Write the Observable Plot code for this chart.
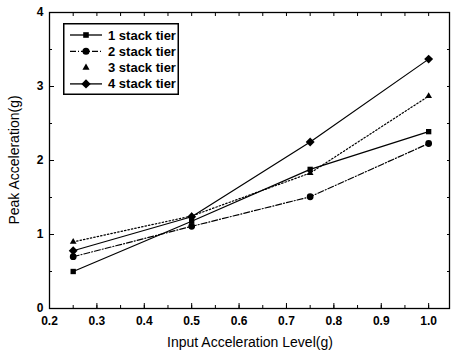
<!DOCTYPE html>
<html>
<head>
<meta charset="utf-8">
<script src="https://cdn.jsdelivr.net/npm/d3@7"></script>
<script src="https://cdn.jsdelivr.net/npm/@observablehq/plot@0.6"></script>
<style>
  html, body { margin: 0; padding: 0; background: #fff; }
  #wrap { position: relative; width: 451px; height: 357px; font-family: "Liberation Sans", Arial, sans-serif; }
  #legend { position: absolute; left: 63px; top: 23px; }
</style>
</head>
<body>
<div id="wrap"></div>
<script>
const xLevels = [0.25, 0.5, 0.75, 1.0];
const seriesNames = ["1 stack tier", "2 stack tier", "3 stack tier", "4 stack tier"];
const tier1 = [0.50, 1.18, 1.88, 2.39];
const tier2 = [0.70, 1.11, 1.51, 2.23];
const tier3 = [0.90, 1.25, 1.83, 2.87];
const tier4 = [0.78, 1.24, 2.25, 3.37];
const xTicks = [0.2, 0.3, 0.4, 0.5, 0.6, 0.7, 0.8, 0.9, 1.0];
const yTicks = [0, 1, 2, 3, 4];

const seriesValues = [tier1, tier2, tier3, tier4];
const symbols = ["square2", "circle", "triangle2", "diamond2"];
const dashes = [null, "6,2,1,2", "1.5,2", null];
const sizes = [3.4, 3.4, 3.2, 4.0];

const data = [];
seriesNames.forEach((name, i) => {
  xLevels.forEach((x, j) => data.push({series: name, idx: i, x, y: seriesValues[i][j]}));
});

const minorX = d3.range(0.2, 1.04, 0.05).map(v => +v.toFixed(2));
const minorY = d3.range(0, 4.01, 0.5).map(v => +v.toFixed(1));

const marks = [
  Plot.frame({stroke: "#000", strokeWidth: 1.3}),
  Plot.axisX({ticks: xTicks, tickSize: 0, tickPadding: 8, tickFormat: d3.format(".1f"), fontWeight: "bold", fontSize: 12, label: null}),
  Plot.axisX({ticks: xTicks, tickSize: -5, text: null, label: null}),
  Plot.axisX({ticks: minorX, tickSize: -3, text: null, label: null}),
  Plot.axisX({anchor: "top", ticks: minorX, tickSize: -3, text: null, label: null}),
  Plot.axisY({ticks: yTicks, tickSize: 0, tickPadding: 6, tickFormat: d3.format("d"), fontWeight: "bold", fontSize: 12, label: null}),
  Plot.axisY({ticks: yTicks, tickSize: -5, text: null, label: null}),
  Plot.axisY({ticks: minorY, tickSize: -3, text: null, label: null}),
  Plot.axisY({anchor: "right", ticks: minorY, tickSize: -3, text: null, label: null}),
];
seriesNames.forEach((name, i) => {
  const d = data.filter(r => r.idx === i);
  marks.push(Plot.line(d, {x: "x", y: "y", stroke: "#000", strokeWidth: 1.2, strokeDasharray: dashes[i]}));
  marks.push(Plot.dot(d, {x: "x", y: "y", symbol: () => symbols[i], r: sizes[i], fill: "#000", stroke: "none"}));
});

const chart = Plot.plot({
  width: 451,
  height: 357,
  marginLeft: 49,
  marginRight: 2,
  marginTop: 12,
  marginBottom: 49,
  style: {fontFamily: "'Liberation Sans', Arial, sans-serif", color: "#000", background: "#fff"},
  x: {domain: [0.2, 1.044], axis: null},
  y: {domain: [0, 4], axis: null},
  symbol: {type: "identity"},
  marks
});
const wrap = document.getElementById("wrap");
wrap.appendChild(chart);

// axis titles as text
const svg = d3.select(chart);
svg.append("text").attr("x", 250).attr("y", 347).attr("text-anchor", "middle")
  .attr("font-size", 14).attr("fill", "#000").text("Input Acceleration Level(g)");
svg.append("text").attr("transform", "translate(19,160) rotate(-90)").attr("text-anchor", "middle")
  .attr("font-size", 14).attr("fill", "#000").text("Peak Acceleration(g)");

// legend
const lg = d3.select(wrap).append("svg").attr("id", "legend").attr("width", 116).attr("height", 72);
lg.append("rect").attr("x", 0.75).attr("y", 0.75).attr("width", 114.5).attr("height", 70.5)
  .attr("fill", "#fff").attr("stroke", "#000").attr("stroke-width", 1.5);
const symGen = [d3.symbolSquare2, d3.symbolCircle, d3.symbolTriangle2, d3.symbolDiamond2];
seriesNames.forEach((name, i) => {
  const cy = 12 + i * 16.3;
  if (i !== 2) {
    lg.append("line").attr("x1", 7).attr("x2", 39).attr("y1", cy).attr("y2", cy)
      .attr("stroke", "#000").attr("stroke-width", 1.3).attr("stroke-dasharray", dashes[i]);
  }
  lg.append("path").attr("transform", `translate(23,${cy})`)
    .attr("d", d3.symbol(symGen[i], [40, 40, 36, 56][i])()).attr("fill", "#000");
  lg.append("text").attr("x", 45).attr("y", cy + 4.5).attr("font-size", 13).attr("font-weight", "bold")
    .attr("fill", "#000").text(name);
});
</script>
</body>
</html>
